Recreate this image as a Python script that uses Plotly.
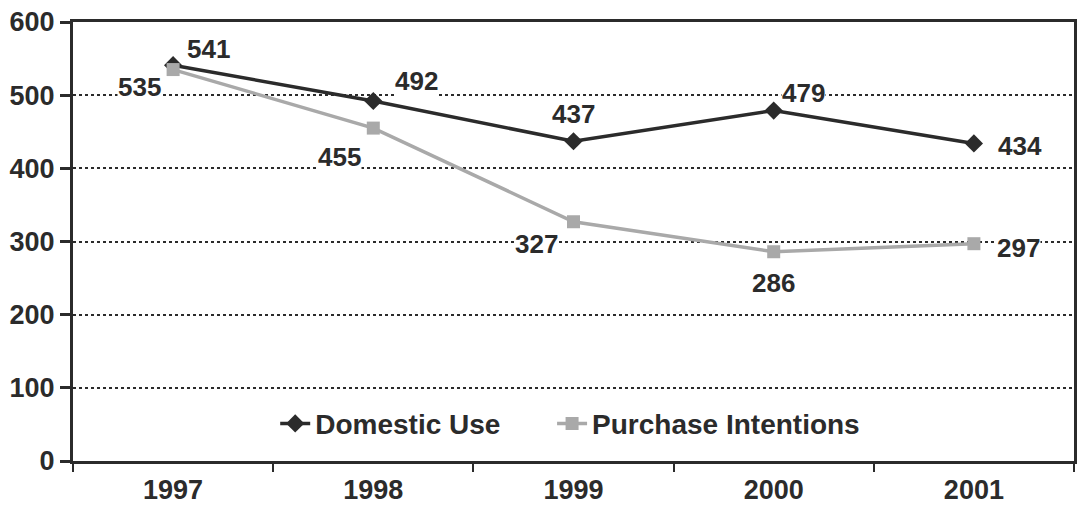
import plotly.graph_objects as go

years = ["1997", "1998", "1999", "2000", "2001"]
domestic_use = [541, 492, 437, 479, 434]
purchase_intentions = [535, 455, 327, 286, 297]

# pixel offsets for each value label (dx, dy), per series
domestic_offsets = [(35, 16), (43, 20), (0, 27), (30, 18), (46, -3)]
purchase_offsets = [(-34, -17), (-34, -29), (-37, -22), (0, -31), (45, -4)]

FONT = "Liberation Sans, Arial, sans-serif"
DARK = "#2b2b2b"
GREY = "#a9a9a9"
NBSP = "\u00a0"

fig = go.Figure()
fig.add_trace(go.Scatter(
    x=years, y=domestic_use, name="<b>Domestic Use</b>" + NBSP * 6, mode="lines+markers",
    line=dict(color=DARK, width=3.5),
    marker=dict(symbol="diamond", size=14, color=DARK),
))
fig.add_trace(go.Scatter(
    x=years, y=purchase_intentions, name="<b>Purchase Intentions</b>", mode="lines+markers",
    line=dict(color=GREY, width=3.5),
    marker=dict(symbol="square", size=13, color=GREY),
))

annotations = []
for series, offsets in ((domestic_use, domestic_offsets), (purchase_intentions, purchase_offsets)):
    for i, (val, (dx, dy)) in enumerate(zip(series, offsets)):
        annotations.append(dict(
            x=i, y=val, xref="x", yref="y", text="<b>%d</b>" % val, showarrow=False,
            xshift=dx, yshift=dy, bgcolor="white", borderpad=0,
            font=dict(family=FONT, size=26, color=DARK),
        ))

fig.update_layout(
    width=1081, height=509,
    margin=dict(l=73, r=4, t=22, b=47),
    paper_bgcolor="white", plot_bgcolor="white",
    font=dict(family=FONT, color=DARK),
    showlegend=True,
    legend=dict(
        orientation="h", x=0.202, xanchor="left", y=0.085, yanchor="middle",
        font=dict(family=FONT, size=28, color=DARK),
        bgcolor="rgba(0,0,0,0)",
    ),
    annotations=annotations,
)
fig.update_xaxes(
    type="category", range=[-0.5, 4.5],
    showline=True, linecolor=DARK, linewidth=3, mirror=True,
    ticks="outside", ticklen=8, tickwidth=2, tickcolor=DARK,
    tickson="boundaries", showgrid=False, ticklabelstandoff=3,
    tickvals=years, ticktext=["<b>%s</b>" % y for y in years],
    tickfont=dict(family=FONT, size=27, color=DARK),
)
fig.update_yaxes(
    range=[0, 600],
    tickvals=list(range(0, 700, 100)),
    ticktext=["<b>%d</b>" % v for v in range(0, 700, 100)],
    showline=True, linecolor=DARK, linewidth=3, mirror=True,
    ticks="outside", ticklen=10, tickwidth=3, tickcolor=DARK,
    showgrid=True, gridcolor=DARK, gridwidth=2, griddash="dot",
    zeroline=False,
    tickfont=dict(family=FONT, size=27, color=DARK),
)

fig.write_html("out.html")
